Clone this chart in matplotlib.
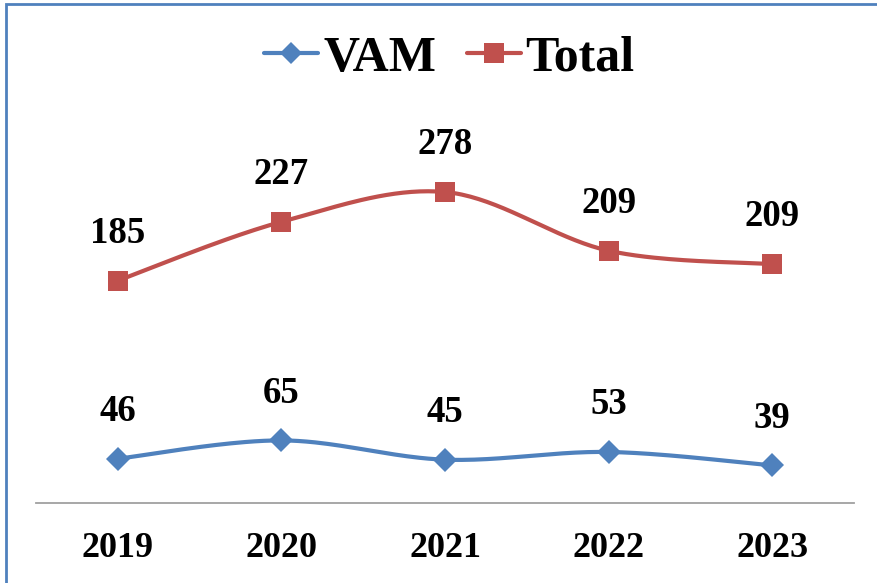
import numpy as np
import matplotlib
matplotlib.use("Agg")
import matplotlib.pyplot as plt
from matplotlib.lines import Line2D
from matplotlib.patches import Rectangle

years = ["2019", "2020", "2021", "2022", "2023"]
vam = [46, 65, 45, 53, 39]
total = [185, 227, 278, 209, 209]

BLUE = "#4F81BD"
RED = "#C0504D"
FONT = "Liberation Serif"

W, H = 877, 583
fig = plt.figure(figsize=(W / 100, H / 100), dpi=100)

def fx(px):
    return px / W

def fy(py):
    return 1 - py / H

# axes: x from 36 to 854 px, y=0 at 503 px, 350 at 166 px
ax = fig.add_axes([fx(36), fy(503), fx(854) - fx(36), fy(166) - fy(503)])
ax.set_xlim(-0.5, len(years) - 0.5)
ax.set_ylim(0, 350)

def smooth(xs, ys, n=40):
    xs = np.asarray(xs, float)
    ys = np.asarray(ys, float)
    P = np.column_stack([xs, ys])
    Pext = np.vstack([P[0], P, P[-1]])
    out = []
    for i in range(len(P) - 1):
        p0, p1, p2, p3 = Pext[i], Pext[i + 1], Pext[i + 2], Pext[i + 3]
        c1 = p1 + (p2 - p0) / 6
        c2 = p2 - (p3 - p1) / 6
        t = np.linspace(0, 1, n)[:, None]
        seg = ((1 - t) ** 3) * p1 + 3 * ((1 - t) ** 2) * t * c1 + 3 * (1 - t) * t ** 2 * c2 + t ** 3 * p2
        out.append(seg if i == 0 else seg[1:])
    arr = np.vstack(out)
    return arr[:, 0], arr[:, 1]

x = np.arange(len(years))
vam_plot = np.array(vam, float)
total_plot = vam_plot + np.array(total, float)  # stacked line chart

for vals, labels, color, marker, ms in [
    (vam_plot, vam, BLUE, "D", 12),
    (total_plot, total, RED, "s", 14),
]:
    sx, sy = smooth(x, vals)
    ax.plot(sx, sy, color=color, lw=3.0, solid_capstyle="round", zorder=2, clip_on=False)
    ax.plot(x, vals, linestyle="none", marker=marker, ms=ms, color=color,
            markeredgecolor=color, markeredgewidth=0, zorder=3, clip_on=False)
    for xi, v, lab in zip(x, vals, labels):
        ax.annotate(str(lab), (xi, v), xytext=(0, 34), textcoords="offset points",
                    ha="center", va="center", fontsize=26.5, fontweight="bold",
                    family=FONT, color="black", annotation_clip=False)

for s in ["top", "right", "left"]:
    ax.spines[s].set_visible(False)
ax.spines["bottom"].set_color("#A0A0A0")
ax.spines["bottom"].set_linewidth(1.3)
ax.set_yticks([])
ax.set_xticks(x)
ax.set_xticklabels(years, fontsize=26, fontweight="bold", family=FONT)
ax.tick_params(axis="x", length=0, pad=21)
ax.patch.set_visible(False)

# chart border (only top and left visible in the crop)
fig.add_artist(Rectangle((fx(6), fy(700)), fx(1000), fy(4) - fy(700), transform=fig.transFigure,
                         fill=False, edgecolor=BLUE, lw=2.0))

# legend drawn manually
ly = fy(53)
fig.add_artist(Line2D([fx(264), fx(318)], [ly, ly], color=BLUE, lw=3.0, solid_capstyle="round"))
fig.add_artist(Line2D([fx(291)], [ly], marker="D", ms=11, color=BLUE, markeredgewidth=0, linestyle="none"))
fig.text(fx(324), ly, "VAM", fontsize=36, fontweight="bold", family=FONT, ha="left", va="center_baseline")
fig.add_artist(Line2D([fx(467), fx(521)], [ly, ly], color=RED, lw=3.0, solid_capstyle="round"))
fig.add_artist(Line2D([fx(494)], [ly], marker="s", ms=14, color=RED, markeredgewidth=0, linestyle="none"))
fig.text(fx(525), ly, "Total", fontsize=36, fontweight="bold", family=FONT, ha="left", va="center_baseline")

fig.savefig("out.png", dpi=100)
